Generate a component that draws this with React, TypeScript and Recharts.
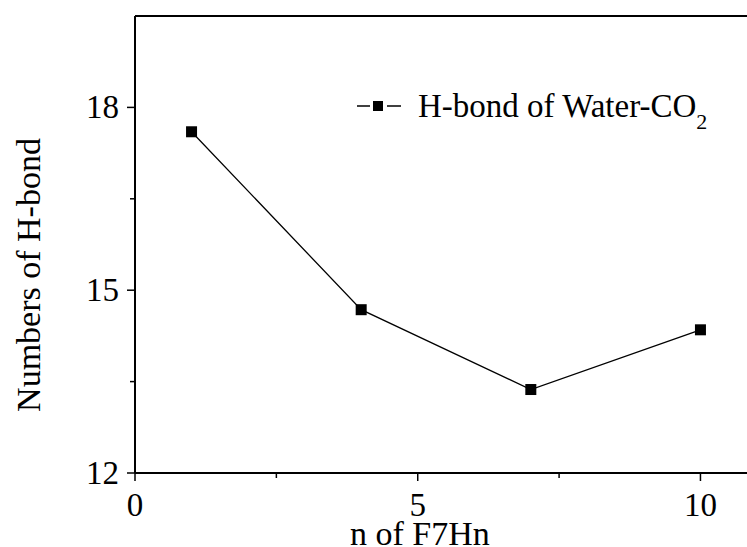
import { Label, Line, LineChart, ReferenceLine, XAxis, YAxis } from "recharts";

const nValues = [1, 4, 7, 10];
const hBonds = [17.6, 14.68, 13.37, 14.35];
const xTicks = [0, 2.5, 5, 7.5, 10];
const yTicks = [12, 13.5, 15, 16.5, 18];

const data = nValues.map((n, i) => ({ n, hbond: hBonds[i] }));

const FONT = "'Liberation Serif', 'Times New Roman', serif";

const XTick = ({ x, y, payload }: any) => {
  const major = payload.value % 5 === 0;
  return (
    <g>
      <line x1={x} x2={x} y1={y} y2={y + (major ? 8 : 5)} stroke="#000" strokeWidth={1.5} />
      {major && (
        <text x={x} y={y + 43} textAnchor="middle" fontSize={33} fontFamily={FONT} fill="#000">
          {payload.value}
        </text>
      )}
    </g>
  );
};

const YTick = ({ x, y, payload }: any) => {
  const major = payload.value % 3 === 0;
  return (
    <g>
      <line x1={x - (major ? 8 : 5)} x2={x} y1={y} y2={y} stroke="#000" strokeWidth={1.5} />
      {major && (
        <text x={x - 16} y={y + 11} textAnchor="end" fontSize={33} fontFamily={FONT} fill="#000">
          {payload.value}
        </text>
      )}
    </g>
  );
};

const SquareDot = ({ cx, cy }: any) => (
  <rect x={cx - 5.5} y={cy - 5.5} width={11} height={11} fill="#000" />
);

const LegendBox = () => (
  <div
    style={{
      position: "absolute",
      left: 356,
      top: 86,
      display: "flex",
      alignItems: "center",
      fontFamily: FONT,
      fontSize: 33,
      lineHeight: "40px",
      color: "#000",
      whiteSpace: "nowrap",
    }}
  >
    <svg width={48} height={14} style={{ marginRight: 14 }}>
      <line x1={1} x2={14} y1={7} y2={7} stroke="#000" strokeWidth={1.5} />
      <rect x={17} y={2} width={10} height={10} fill="#000" />
      <line x1={31} x2={45} y1={7} y2={7} stroke="#000" strokeWidth={1.5} />
    </svg>
    <span>
      H-bond of Water-CO<sub style={{ fontSize: 22, verticalAlign: -12, lineHeight: 0 }}>2</sub>
    </span>
  </div>
);

export default function App() {
  return (
    <div style={{ position: "absolute", left: 0, top: 0, width: 747, height: 547, overflow: "hidden", background: "#fff" }}>
      <LineChart width={800} height={547} data={data} margin={{ top: 16, right: 43, bottom: 0, left: 0 }}>
        <XAxis
          dataKey="n"
          type="number"
          domain={[0, 11]}
          ticks={xTicks}
          interval={0}
          height={74}
          tickSize={0}
          tickMargin={0}
          tick={<XTick />}
          axisLine={{ stroke: "#000", strokeWidth: 2 }}
        >
          <Label
            content={({ viewBox }: any) => (
              <text x={viewBox.x + 215} y={viewBox.y + 72} fontSize={34} fontFamily={FONT} fill="#000">
                n of F7Hn
              </text>
            )}
          />
        </XAxis>
        <YAxis
          type="number"
          domain={[12, 19.5]}
          ticks={yTicks}
          interval={0}
          width={135}
          tickSize={0}
          tickMargin={0}
          tick={<YTick />}
          axisLine={{ stroke: "#000", strokeWidth: 2 }}
        >
          <Label
            content={() => (
              <text
                x={40}
                y={275}
                transform="rotate(-90 40 275)"
                textAnchor="middle"
                fontSize={34}
                fontFamily={FONT}
                fill="#000"
              >
                Numbers of H-bond
              </text>
            )}
          />
        </YAxis>
        <ReferenceLine y={19.5} stroke="#000" strokeWidth={2} />
        <Line
          type="linear"
          dataKey="hbond"
          stroke="#000"
          strokeWidth={1.3}
          dot={<SquareDot />}
          activeDot={false}
          isAnimationActive={false}
        />
      </LineChart>
      <LegendBox />
    </div>
  );
}
